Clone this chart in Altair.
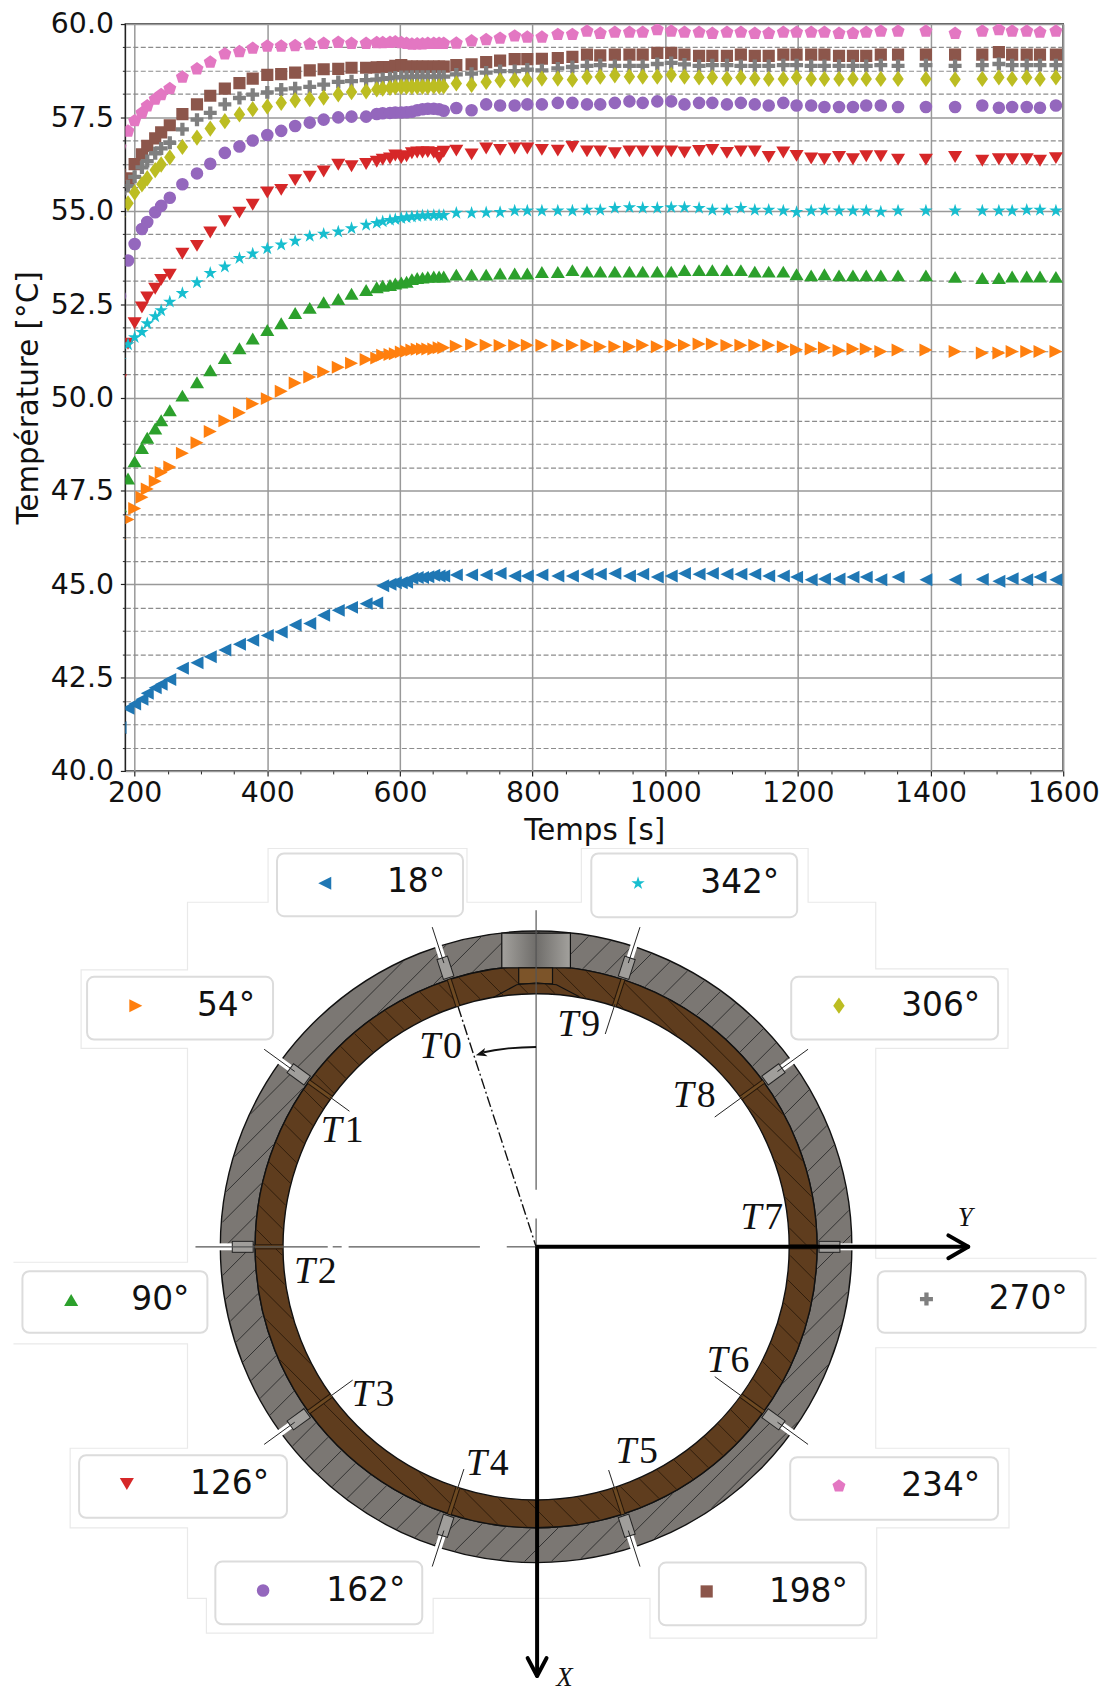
import math
import altair as alt
import pandas as pd

# ---------- measured data ----------
TIME = [178,190,200,211,219,231,240,253,272,294,314,336,358,378,400,421,442,464,485,507,527,549,565,574,585,593,602,610,618,626,634,642,651,659,666,685,708,730,751,773,792,814,838,860,882,902,924,946,966,988,1009,1029,1051,1071,1093,1114,1135,1156,1178,1198,1220,1240,1262,1283,1303,1325,1351,1393,1437,1478,1503,1523,1545,1565,1589]

T18 = [41.16,41.68,41.79,41.92,42.08,42.23,42.32,42.45,42.75,42.90,43.06,43.24,43.39,43.50,43.63,43.72,43.91,43.95,44.17,44.30,44.38,44.48,44.50,44.96,45.00,45.04,45.04,45.05,45.16,45.18,45.18,45.20,45.24,45.22,45.22,45.25,45.25,45.25,45.29,45.22,45.22,45.25,45.22,45.22,45.27,45.27,45.29,45.22,45.27,45.19,45.22,45.29,45.27,45.29,45.27,45.27,45.27,45.22,45.22,45.19,45.12,45.14,45.14,45.19,45.19,45.12,45.19,45.12,45.12,45.13,45.08,45.15,45.12,45.19,45.12]
T54 = [46.20,46.73,47.03,47.33,47.55,47.76,47.99,48.14,48.51,48.79,49.09,49.38,49.59,49.83,49.97,50.17,50.39,50.55,50.69,50.81,50.92,51.02,51.06,51.13,51.15,51.17,51.22,51.24,51.27,51.29,51.30,51.30,51.30,51.33,51.33,51.37,51.42,51.40,51.39,51.39,51.40,51.40,51.40,51.40,51.40,51.36,51.36,51.36,51.40,51.36,51.40,51.40,51.43,51.43,51.39,51.40,51.40,51.40,51.36,51.28,51.30,51.33,51.26,51.30,51.30,51.23,51.27,51.27,51.23,51.19,51.19,51.23,51.23,51.23,51.23]
T90 = [47.09,47.83,48.29,48.65,48.92,49.17,49.39,49.66,50.05,50.41,50.73,51.06,51.32,51.58,51.81,51.99,52.26,52.40,52.55,52.64,52.78,52.88,52.95,52.99,53.01,53.05,53.08,53.10,53.17,53.20,53.21,53.23,53.24,53.24,53.24,53.29,53.29,53.29,53.32,53.32,53.32,53.36,53.36,53.41,53.37,53.37,53.37,53.37,53.37,53.37,53.37,53.41,53.41,53.41,53.41,53.41,53.37,53.37,53.37,53.30,53.27,53.30,53.27,53.27,53.27,53.27,53.27,53.27,53.23,53.20,53.20,53.24,53.24,53.24,53.23]
T126 = [50.46,51.44,51.99,52.41,52.68,52.91,53.15,53.29,53.85,54.06,54.42,54.72,54.95,55.16,55.49,55.56,55.82,55.91,56.05,56.23,56.19,56.25,56.31,56.37,56.40,56.48,56.41,56.46,56.54,56.56,56.56,56.57,56.55,56.42,56.58,56.61,56.51,56.67,56.63,56.67,56.67,56.63,56.61,56.71,56.59,56.59,56.54,56.59,56.59,56.59,56.59,56.56,56.60,56.63,56.55,56.59,56.59,56.44,56.56,56.47,56.40,56.38,56.44,56.38,56.46,56.46,56.37,56.37,56.44,56.34,56.38,56.38,56.38,56.34,56.41]
T162 = [52.72,53.67,54.11,54.51,54.70,54.96,55.13,55.35,55.71,56.00,56.26,56.55,56.72,56.88,57.03,57.14,57.27,57.36,57.44,57.50,57.52,57.52,57.59,57.61,57.62,57.63,57.63,57.64,57.65,57.69,57.72,57.73,57.73,57.72,57.68,57.75,57.69,57.85,57.82,57.82,57.85,57.85,57.89,57.89,57.85,57.85,57.89,57.93,57.89,57.93,57.93,57.85,57.89,57.89,57.85,57.89,57.85,57.82,57.89,57.82,57.82,57.78,57.78,57.78,57.82,57.82,57.78,57.78,57.78,57.82,57.76,57.78,57.78,57.76,57.82]
T198 = [55.96,55.87,56.25,56.51,56.74,56.94,57.10,57.29,57.59,57.85,58.08,58.27,58.42,58.54,58.64,58.66,58.70,58.76,58.79,58.80,58.83,58.83,58.84,58.85,58.85,58.88,58.90,58.86,58.86,58.86,58.86,58.86,58.86,58.86,58.86,58.90,58.92,58.98,59.02,59.06,59.06,59.07,59.09,59.12,59.18,59.16,59.18,59.18,59.18,59.23,59.23,59.18,59.15,59.15,59.15,59.18,59.15,59.15,59.18,59.18,59.18,59.18,59.15,59.15,59.15,59.18,59.18,59.18,59.18,59.18,59.25,59.18,59.18,59.18,59.18]
T234 = [56.70,57.13,57.41,57.62,57.81,57.99,58.11,58.27,58.58,58.80,58.98,59.20,59.26,59.35,59.41,59.41,59.42,59.46,59.48,59.51,59.48,59.48,59.50,59.50,59.51,59.52,59.50,59.48,59.46,59.47,59.47,59.48,59.48,59.48,59.48,59.49,59.55,59.58,59.62,59.68,59.65,59.65,59.72,59.72,59.81,59.75,59.78,59.78,59.78,59.85,59.81,59.78,59.78,59.75,59.78,59.78,59.75,59.75,59.78,59.78,59.78,59.78,59.75,59.75,59.78,59.81,59.81,59.81,59.75,59.81,59.85,59.81,59.81,59.78,59.81]
T270 = [55.47,55.66,55.91,56.16,56.33,56.54,56.67,56.82,57.18,57.44,57.62,57.85,58.02,58.11,58.17,58.25,58.28,58.32,58.38,58.45,58.47,58.50,58.51,58.53,58.55,58.57,58.58,58.58,58.59,58.59,58.59,58.59,58.59,58.59,58.59,58.65,58.67,58.70,58.74,58.74,58.78,58.76,58.81,58.85,58.88,58.90,58.88,58.88,58.88,58.93,58.96,58.92,58.88,58.90,58.90,58.88,58.88,58.88,58.90,58.90,58.88,58.88,58.88,58.88,58.88,58.90,58.88,58.90,58.88,58.90,58.93,58.90,58.90,58.90,58.90]
T306 = [54.84,55.20,55.49,55.71,55.87,56.09,56.24,56.43,56.71,56.96,57.20,57.40,57.58,57.72,57.79,57.89,57.96,57.99,58.03,58.12,58.18,58.20,58.25,58.27,58.29,58.31,58.32,58.32,58.32,58.32,58.32,58.32,58.33,58.33,58.33,58.41,58.37,58.45,58.49,58.50,58.51,58.54,58.54,58.51,58.58,58.59,58.63,58.59,58.59,58.59,58.64,58.59,58.57,58.57,58.54,58.57,58.54,58.53,58.53,58.57,58.53,58.53,58.53,58.53,58.53,58.53,58.53,58.53,58.52,58.53,58.57,58.53,58.57,58.53,58.57]
T342 = [51.00,51.42,51.61,51.75,51.98,52.17,52.33,52.56,52.79,53.08,53.33,53.50,53.73,53.85,53.99,54.09,54.19,54.32,54.38,54.44,54.53,54.62,54.67,54.71,54.75,54.77,54.80,54.82,54.84,54.85,54.87,54.87,54.88,54.88,54.88,54.94,54.94,54.95,54.96,55.00,55.00,55.00,55.00,55.00,55.02,55.02,55.07,55.09,55.07,55.07,55.09,55.09,55.07,55.02,55.02,55.07,55.02,55.02,55.00,54.96,55.00,55.02,55.00,55.00,55.00,54.97,55.00,55.00,55.00,55.00,55.00,55.00,55.02,55.02,55.00]

X_MAJOR = [200,400,600,800,1000,1200,1400,1600]
X_MINOR = [250,300,350,450,500,550,650,700,750,850,900,950,1050,1100,1150,1250,1300,1350,1450,1500,1550]
Y_MAJOR = [40,42.5,45,47.5,50,52.5,55,57.5,60]
Y_MINOR = [40.625,41.25,41.875,43.125,43.75,44.375,45.625,46.25,46.875,48.125,48.75,49.375,50.625,51.25,51.875,53.125,53.75,54.375,55.625,56.25,56.875,58.125,58.75,59.375]

# marker outlines
M_LEFT = "M-1,0L1,-1L1,1Z"
M_RIGHT = "M1,0L-1,-1L-1,1Z"
M_UP = "M0,-0.85L1,0.85L-1,0.85Z"
M_DOWN = "M0,0.85L1,-0.85L-1,-0.85Z"
M_SQUARE = "M-1,-1L1,-1L1,1L-1,1Z"
M_DIAMOND = "M0,-1L0.7,0L0,1L-0.7,0Z"
M_PLUS = "M-0.33,-1L0.33,-1L0.33,-0.33L1,-0.33L1,0.33L0.33,0.33L0.33,1L-0.33,1L-0.33,0.33L-1,0.33L-1,-0.33L-0.33,-0.33Z"
M_PENT = "M0,-1L0.95,-0.31L0.59,0.81L-0.59,0.81L-0.95,-0.31Z"
M_STAR = "M0,-1L0.22,-0.31L0.95,-0.31L0.36,0.12L0.59,0.81L0,0.38L-0.59,0.81L-0.36,0.12L-0.95,-0.31L-0.22,-0.31Z"

# label, values, colour, shape, size, legend box x1,x2,y1,y2, marker x,y, text right x,y
SERIES = [
    ("18°", T18, "#1f77b4", M_LEFT, 170, 276, 463, 851, 914, 324, 881, 445, 880),
    ("54°", T54, "#ff7f0e", M_RIGHT, 170, 85, 272, 975, 1038, 134, 1004, 254, 1004),
    ("90°", T90, "#2ca02c", M_UP, 200, 20, 206, 1271, 1333, 69, 1300, 188, 1300),
    ("126°", T126, "#d62728", M_DOWN, 200, 77, 286, 1456, 1519, 125, 1485, 268, 1485),
    ("162°", T162, "#9467bd", "circle", 160, 214, 422, 1563, 1626, 262, 1592, 405, 1593),
    ("198°", T198, "#8c564b", M_SQUARE, 150, 660, 868, 1564, 1627, 708, 1593, 850, 1594),
    ("234°", T234, "#e377c2", M_PENT, 190, 792, 1001, 1458, 1521, 841, 1487, 983, 1487),
    ("270°", T270, "#7f7f7f", M_PLUS, 170, 880, 1089, 1271, 1333, 929, 1299, 1071, 1299),
    ("306°", T306, "#bcbd22", M_DIAMOND, 270, 793, 1001, 975, 1038, 841, 1004, 983, 1004),
    ("342°", T342, "#17becf", M_STAR, 200, 592, 799, 851, 915, 639, 881, 781, 881),
]

SENSOR_ANGLES = [18, 54, 90, 126, 162, 198, 234, 270, 306, 342]
SENSOR_INNER = [254, 232, 254, 228, 235, 236, 222, 254, 222, 225]
SENSOR_TAGS = ["0", "1", "2", "3", "4", "5", "6", "7", "8", "9"]
TAG_X = [441, 342, 315, 373, 488, 638, 730, 764, 696, 580]
TAG_Y = [1046, 1130, 1272, 1396, 1465, 1453, 1361, 1218, 1095, 1024]

OUTLINE_A = [(11,1262),(186,1262),(186,1047),(79,1047),(79,968),(186,968),(186,900),(267,900),(267,846),(467,846),(467,900),(582,900),(582,846),(810,846),(810,900),(878,900),(878,967),(1011,967),(1011,1047),(878,1047),(878,1258),(1100,1258)]
OUTLINE_B = [(11,1344),(186,1344),(186,1449),(68,1449),(68,1529),(186,1529),(186,1600),(205,1600),(205,1635),(433,1635),(433,1600),(651,1600),(651,1640),(879,1640),(879,1529),(1012,1529),(1012,1449),(878,1449),(878,1348),(1100,1348)]

CX, CY = 536.5, 1246.5
R_OUT, R_MID, R_IN = 317.5, 282.5, 254.5
PAGE_X0, PAGE_Y0 = 123.5, 843
PANEL_W, PANEL_H = 975, 834

XS = alt.Scale(domain=[PAGE_X0, PAGE_X0 + PANEL_W], range=[0, PANEL_W], nice=False, zero=False)
YS = alt.Scale(domain=[PAGE_Y0, PAGE_Y0 + PANEL_H], range=[0, PANEL_H], nice=False, zero=False)


def pos(field, s):
    return alt.X(field + ":Q", scale=XS, axis=None) if s == "x" else alt.Y(field + ":Q", scale=YS, axis=None)


def rad(angle, r):
    a = math.radians(angle)
    return CX - r * math.sin(a), CY - r * math.cos(a)


def segs(rows, color, width, dash=None, cap="butt"):
    df = pd.DataFrame(rows, columns=["x", "y", "x2", "y2"])
    kw = dict(color=color, strokeWidth=width, strokeCap=cap)
    if dash:
        kw["strokeDash"] = dash
    return alt.Chart(df).mark_rule(**kw).encode(
        x=pos("x", "x"), y=pos("y", "y"), x2="x2:Q", y2="y2:Q")


def hatch(r1, r2, spacing, slash):
    rows = []
    k = 1 / math.sqrt(2)
    n = (k, k) if slash else (k, -k)
    t = (k, -k) if slash else (k, k)
    d = -r2
    while d <= r2:
        ad = abs(d)
        if ad < r2:
            top = math.sqrt(r2 * r2 - d * d)
            spans = [(-top, top)]
            if ad < r1:
                low = math.sqrt(r1 * r1 - d * d)
                spans = [(-top, -low), (low, top)]
            for a, b in spans:
                rows.append((CX + d * n[0] + a * t[0], CY + d * n[1] + a * t[1],
                             CX + d * n[0] + b * t[0], CY + d * n[1] + b * t[1]))
        d += spacing
    return rows


def ring(inner, outer, fill):
    return alt.Chart(pd.DataFrame({"x": [CX], "y": [CY]})).mark_arc(
        innerRadius=inner, outerRadius=outer, theta=0, theta2=2 * math.pi,
        fill=fill, stroke="#111111", strokeWidth=1.4,
    ).encode(x=pos("x", "x"), y=pos("y", "y"))


def poly(points, color, width, dash=None):
    df = pd.DataFrame(points, columns=["x", "y"]).assign(i=range(len(points)))
    kw = dict(color=color, strokeWidth=width)
    if dash:
        kw["strokeDash"] = dash
    return alt.Chart(df).mark_line(**kw).encode(x=pos("x", "x"), y=pos("y", "y"), order="i:Q")


# ---------- top chart ----------
xsc = alt.Scale(domain=[186, 1600], nice=False, zero=False)
ysc = alt.Scale(domain=[40, 60], nice=False, zero=False)

base_axes = alt.Chart(pd.DataFrame({"t": [200], "v": [50]})).mark_point(opacity=0).encode(
    x=alt.X("t:Q", scale=xsc, title="Temps [s]", axis=alt.Axis(
        orient="bottom", values=X_MAJOR, format="d", grid=True, gridColor="#999999", gridWidth=1.5,
        domain=False, tickColor="#222222", tickSize=5, tickWidth=1.2, labelFontSize=28.5, labelColor="#111111",
        labelPadding=3, titleFontSize=29.5, titleFontWeight="normal", titleColor="#111111", titlePadding=9,
        labelFlush=False, labelOverlap=False)),
    y=alt.Y("v:Q", scale=ysc, title="Température [°C]", axis=alt.Axis(
        orient="left", values=Y_MAJOR, format=".1f", grid=True, gridColor="#999999", gridWidth=1.5,
        domain=False, tickColor="#222222", tickSize=5, tickWidth=1.2, labelFontSize=28.5, labelColor="#111111",
        labelPadding=7, titleFontSize=29.5, titleFontWeight="normal", titleColor="#111111", titlePadding=7,
        labelOverlap=False)),
)
minor_axes = alt.Chart(pd.DataFrame({"t": [200], "v": [50]})).mark_point(opacity=0).encode(
    x=alt.X("t:Q", scale=xsc, title=None, axis=alt.Axis(
        orient="bottom", values=X_MINOR, labels=False, grid=False, domain=False,
        tickColor="#222222", tickSize=3, tickWidth=1)),
    y=alt.Y("v:Q", scale=ysc, title=None, axis=alt.Axis(
        orient="left", values=Y_MINOR, labels=False, grid=True, gridColor="#8c8c8c", gridWidth=1.1,
        gridDash=[5, 2.5], domain=False, tickColor="#222222", tickSize=3, tickWidth=1)),
)

series_layers = []
for name, vals, col, shp, size, *_ in SERIES:
    df = pd.DataFrame({"t": TIME, "v": vals})
    series_layers.append(alt.Chart(df).mark_point(
        shape=shp, size=size, filled=True, color=col, opacity=1, clip=True, strokeWidth=0,
    ).encode(x=alt.X("t:Q", scale=xsc, axis=None), y=alt.Y("v:Q", scale=ysc, axis=None)))

top = alt.layer(minor_axes, base_axes, *series_layers).resolve_axis(
    x="independent", y="independent"
).properties(width=943, height=751, view=alt.ViewConfig(stroke="#222222", strokeWidth=1.6))

# ---------- diagram ----------
lay = []
lay.append(poly(OUTLINE_A, "#e9e9e9", 1.2))
lay.append(poly(OUTLINE_B, "#e9e9e9", 1.2))
lay.append(ring(R_MID, R_OUT, "#7b7773"))
lay.append(ring(R_IN, R_MID, "#5f3d1e"))
lay.append(segs(hatch(R_MID + 1, R_OUT - 1, 19, True), "#2a2a2a", 0.9))
lay.append(segs(hatch(R_IN + 1, R_MID - 1, 19, False), "#2a1a0a", 0.9))

grad = alt.LinearGradient(gradient="linear", x1=0, x2=1, y1=0, y2=0, stops=[
    alt.GradientStop(color="#a3a19d", offset=0), alt.GradientStop(color="#6f6d6a", offset=0.5),
    alt.GradientStop(color="#a3a19d", offset=1)])
lay.append(alt.Chart(pd.DataFrame({"x": [502], "x2": [571], "y": [931], "y2": [966]})).mark_rect(
    color=grad, stroke="#111111", strokeWidth=1.2).encode(x=pos("x", "x"), x2="x2:Q", y=pos("y", "y"), y2="y2:Q"))
lay.append(alt.Chart(pd.DataFrame({"x": [519], "x2": [553], "y": [966], "y2": [982]})).mark_rect(
    color="#7c5429", stroke="#111111", strokeWidth=1.2).encode(x=pos("x", "x"), x2="x2:Q", y=pos("y", "y"), y2="y2:Q"))
lay.append(poly([(493, 996), (517, 983), (537, 981), (557, 983), (580, 995)], "#111111", 1.2))

# sensors
lay.append(segs([rad(a, 303) + rad(a, 322) for a in SENSOR_ANGLES], "#ffffff", 7))
lay.append(segs([rad(a, 284) + rad(a, 306) for a in SENSOR_ANGLES], "#222222", 12))
lay.append(segs([rad(a, 285) + rad(a, 305) for a in SENSOR_ANGLES], "#a09e9b", 10))
lay.append(segs([rad(a, R_IN) + rad(a, R_MID) for a in SENSOR_ANGLES], "#24160a", 5))
lay.append(segs([rad(a, R_IN) + rad(a, R_MID) for a in SENSOR_ANGLES], "#6e4a22", 3))
lay.append(segs([rad(a, 300) + rad(a, 338) for a in SENSOR_ANGLES if a not in (90, 270)], "#222222", 1))
lay.append(segs([rad(a, r) + rad(a, R_IN + 2) for a, r in zip(SENSOR_ANGLES, SENSOR_INNER) if a not in (90, 270, 18)], "#222222", 1))

# centre lines
lay.append(segs([(CX, 908, CX, 1189), (CX, 1218, CX, 1246)], "#555555", 1.2))
lay.append(segs([(194, CY, 327, CY), (332, CY, 341, CY), (348, CY, 480, CY), (507, CY, 537, CY)], "#555555", 1.2))
lay.append(segs([rad(18, 254) + rad(18, 0)], "#111111", 1.4, dash=[11, 3, 2, 3]))

# T0 angle arrow
lay.append(poly([rad(0, 201), rad(4, 201), rad(8, 201.5), rad(12, 202), rad(15, 202.5)], "#111111", 2))
tip = rad(17, 203)
lay.append(alt.Chart(pd.DataFrame({"x": [tip[0] + 4], "y": [tip[1]]})).mark_point(
    shape="M-1,0L1,-0.8L0.5,0L1,0.8Z", size=120, filled=True, color="#111111", opacity=1, angle=343, strokeWidth=0,
).encode(x=pos("x", "x"), y=pos("y", "y")))

# X / Y axes
lay.append(segs([(CX, CY, 970, CY), (CX + 1, CY, CX + 1, 1676)], "#000000", 4))
lay.append(segs([(951, 1235, 971, CY), (951, 1258, 971, CY), (528, 1660, CX + 1, 1678), (547, 1660, CX + 1, 1678)],
                "#000000", 4, cap="round"))


def texts(df, font, size, style="normal", align="center", color="#111111"):
    return alt.Chart(df).mark_text(font=font, fontSize=size, fontStyle=style, align=align, baseline="middle", color=color).encode(
        x=pos("x", "x"), y=pos("y", "y"), text="s:N")


# T0..T9 tags
lay.append(texts(pd.DataFrame({"x": [x - 22 for x in TAG_X], "y": TAG_Y, "s": ["T"] * 10}),
                 "Liberation Serif", 38, "italic", "left"))
lay.append(texts(pd.DataFrame({"x": [x + 2 for x in TAG_X], "y": TAG_Y, "s": SENSOR_TAGS}),
                 "Liberation Serif", 38, "normal", "left"))
lay.append(texts(pd.DataFrame({"x": [968, 565], "y": [1218, 1680], "s": ["Y", "X"]}),
                 "Liberation Serif", 27, "italic"))

# legend boxes
for name, vals, col, shp, size, x1, x2, y1, y2, mx, my, tx, ty in SERIES:
    lay.append(alt.Chart(pd.DataFrame({"x": [x1], "x2": [x2], "y": [y1], "y2": [y2]})).mark_rect(
        fill="#ffffff", stroke="#dcdcdc", strokeWidth=2, cornerRadius=7,
    ).encode(x=pos("x", "x"), x2="x2:Q", y=pos("y", "y"), y2="y2:Q"))
    lay.append(alt.Chart(pd.DataFrame({"x": [mx], "y": [my]})).mark_point(
        shape=shp, size=size, filled=True, color=col, opacity=1, strokeWidth=0,
    ).encode(x=pos("x", "x"), y=pos("y", "y")))
    lay.append(texts(pd.DataFrame({"x": [tx], "y": [ty], "s": [name]}), "DejaVu Sans", 33, align="right"))

panel = alt.layer(*lay).properties(width=PANEL_W, height=PANEL_H, view=alt.ViewConfig(stroke=None))

chart = alt.vconcat(top, panel, spacing=0).resolve_scale(x="independent", y="independent").properties(
    padding={"left": 3, "top": -3.5, "right": 0, "bottom": 0}
).configure(font="DejaVu Sans")

chart.save("out.html", embed_options={"renderer": "svg", "actions": False})
